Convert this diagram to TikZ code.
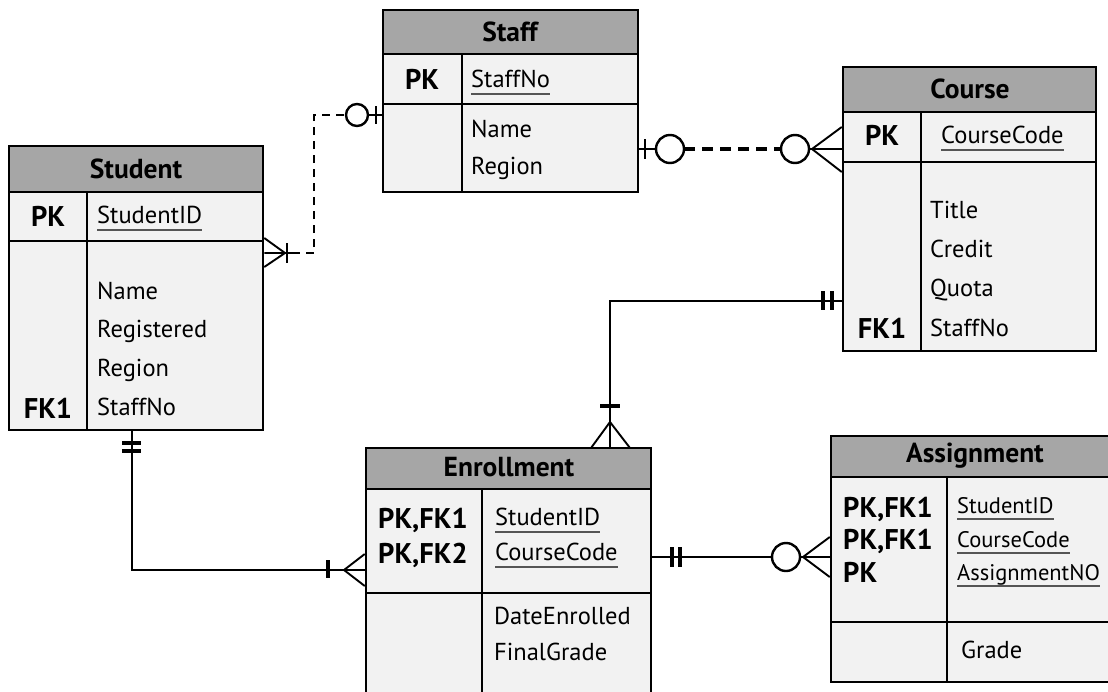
\documentclass[tikz,border=0pt]{standalone}
\usepackage{fontspec}
\setmainfont{PT Sans}

\definecolor{headgray}{HTML}{A6A6A6}
\definecolor{bodygray}{HTML}{F2F2F2}
\definecolor{keygray}{HTML}{555555}

\tikzset{
  tablebox/.style={draw,line width=2.5pt,fill=bodygray,inner sep=0pt},
  headbox/.style={draw,line width=2.5pt,fill=headgray},
  rule/.style={line width=2.2pt},
  tabletitle/.style={font=\fontsize{27.5}{27.5}\selectfont\bfseries},
  keytext/.style={font=\fontsize{28.5}{28.5}\selectfont\bfseries,anchor=base west,inner sep=0pt},
  pkname/.style={font=\fontsize{24.5}{24.5}\selectfont,anchor=base west,inner sep=0pt},
  smallpk/.style={pkname,font=\fontsize{22.5}{22.5}\selectfont},
  attr/.style={font=\fontsize{24.5}{24.5}\selectfont,anchor=base west,inner sep=0pt},
  keyline/.style={keygray,line width=1.3pt},
  rel/.style={line width=1.9pt},
  optrel/.style={line width=2.4pt,dash pattern=on 8pt off 6pt},
  thickopt/.style={line width=3.2pt,dash pattern=on 11pt off 7pt},
  bar/.style={line width=3.2pt},
  ring/.style={line width=2.4pt,fill=white},
}

\begin{document}
\begin{tikzpicture}[x=1pt,y=-1pt]
\useasboundingbox (0,0) rectangle (1108,691);
\clip (0,0) rectangle (1108,691);

% Student
\node[tablebox,minimum width=254pt,minimum height=284pt] (student) at (136,288) {};
\filldraw[headbox] (9,146) rectangle (263,192);
\draw[rule] (9,241) -- (263,241) (87,192) -- (87,430);
\node[tabletitle] (student-title) at (136,169) {Student};
\node[keytext,anchor=base] (student-pk) at (48,226) {PK};
\node[pkname] (student-id) at (97,223) {StudentID};
\draw[keyline] ([yshift=-7pt]student-id.base west) -- ([yshift=-7pt]student-id.base east);
\foreach \ypos/\attrname [count=\i] in {299/Name,337/Registered,376/Region,415/StaffNo}
  \node[attr] (student-a\i) at (97,\ypos) {\attrname};
\node[keytext,anchor=base] (student-fk) at (48,418) {FK1};

% Staff
\node[tablebox,minimum width=255pt,minimum height=182pt] (staff) at (510.5,101) {};
\filldraw[headbox] (383,10) rectangle (638,54);
\draw[rule] (383,104) -- (638,104) (462,54) -- (462,192);
\node[tabletitle] (staff-title) at (510,32) {Staff};
\node[keytext,anchor=base] (staff-pk) at (422,89) {PK};
\node[pkname] (staff-no) at (471,87) {StaffNo};
\draw[keyline] ([yshift=-7pt]staff-no.base west) -- ([yshift=-7pt]staff-no.base east);
\foreach \ypos/\attrname [count=\i] in {137/Name,174/Region}
  \node[attr] (staff-a\i) at (471,\ypos) {\attrname};

% Course
\node[tablebox,minimum width=253pt,minimum height=284pt] (course) at (969.5,209) {};
\filldraw[headbox] (843,67) rectangle (1096,112);
\draw[rule] (843,162) -- (1096,162) (921,112) -- (921,351);
\node[tabletitle] (course-title) at (970,89) {Course};
\node[keytext,anchor=base] (course-pk) at (882,145) {PK};
\node[pkname] (course-code) at (941,143) {CourseCode};
\draw[keyline] ([yshift=-7pt]course-code.base west) -- ([yshift=-7pt]course-code.base east);
\foreach \ypos/\attrname [count=\i] in {218/Title,257/Credit,296/Quota,336/StaffNo}
  \node[attr] (course-a\i) at (930,\ypos) {\attrname};
\node[keytext,anchor=base] (course-fk) at (882,338) {FK1};

% Enrollment (runs off the bottom)
\node[tablebox,minimum width=285pt,minimum height=262pt] (enrollment) at (508.5,579) {};
\filldraw[headbox] (366,448) rectangle (651,489);
\draw[rule] (366,593) -- (651,593) (482,489) -- (482,710);
\node[tabletitle] (enrollment-title) at (509,467) {Enrollment};
\node[keytext] (enrollment-k1) at (378,528) {PK,FK1};
\node[keytext] (enrollment-k2) at (378,563) {PK,FK2};
\node[pkname] (enrollment-id) at (495,525) {StudentID};
\node[pkname] (enrollment-code) at (495,560) {CourseCode};
\foreach \keynode in {enrollment-id,enrollment-code}
  \draw[keyline] ([yshift=-7pt]\keynode.base west) -- ([yshift=-7pt]\keynode.base east);
\foreach \ypos/\attrname [count=\i] in {624/DateEnrolled,660/FinalGrade}
  \node[attr] (enrollment-a\i) at (494,\ypos) {\attrname};

% Assignment (runs off the right side)
\node[tablebox,minimum width=288pt,minimum height=246pt] (assignment) at (975,559) {};
\filldraw[headbox] (831,436) rectangle (1119,477);
\draw[rule] (831,622) -- (1119,622) (947,477) -- (947,682);
\node[tabletitle] (assignment-title) at (975,456) {Assignment};
\foreach \ypos/\keyname [count=\i] in {517/{PK,FK1},549/{PK,FK1},582/PK}
  \node[keytext] (assignment-k\i) at (843,\ypos) {\keyname};
\foreach \ypos/\keyname [count=\i] in {513/StudentID,547/CourseCode,580/AssignmentNO} {
  \node[smallpk] (assignment-p\i) at (957,\ypos) {\keyname};
  \draw[keyline] ([yshift=-6pt]assignment-p\i.base west) -- ([yshift=-6pt]assignment-p\i.base east);
}
\node[attr] (assignment-a1) at (961,658) {Grade};

% Student -- Staff (many, optional)
\draw[rel] (student.east |- 0,238) -- (285,253) -- (student.east |- 0,267)
  (student.east |- 0,253) -- (292,253);
\draw[rel] (287,243) -- (287,263);
\draw[optrel] (292,253) -- (314,253) -- (314,115) -- (346,115);
\draw[ring] (357,115) circle (11);
\draw[rel] (368,115) -- (staff.west |- 0,115);
\draw[rel] (376,106) -- (376,124);

% Staff -- Course (zero or many)
\draw[rel] (staff.east |- 0,149) -- (656,149);
\draw[rel] (645,139) -- (645,159);
\draw[ring] (670,149) circle (14);
\draw[thickopt] (684,149) -- (781,149);
\draw[ring] (795,149) circle (14);
\draw[rel] (course.west |- 0,127) -- (812,149) -- (course.west |- 0,172)
  (809,149) -- (course.west |- 0,149);

% Course -- Enrollment
\draw[rel] (course.west |- 0,301) -- (610,301) -- (enrollment.north -| 610,0);
\draw[bar] (823,291) -- (823,310) (832,291) -- (832,310);
\draw[bar] (600,406) -- (620,406);
\draw[rel] (591,448) -- (610,422) -- (630,448);

% Student -- Enrollment
\draw[rel] (student.south -| 132,0) -- (132,570) -- (enrollment.west |- 0,570);
\draw[bar] (122,443) -- (141,443) (122,451) -- (141,451);
\draw[bar] (328,560) -- (328,578);
\draw[rel] (enrollment.west |- 0,554) -- (344,570) -- (enrollment.west |- 0,586);

% Enrollment -- Assignment
\draw[rel] (enrollment.east |- 0,557) -- (772,557);
\draw[bar] (672,547) -- (672,567) (680,547) -- (680,567);
\draw[ring] (786,557) circle (14);
\draw[rel] (assignment.west |- 0,537) -- (803,557) -- (assignment.west |- 0,577)
  (800,557) -- (assignment.west |- 0,557);
\end{tikzpicture}
\end{document}
